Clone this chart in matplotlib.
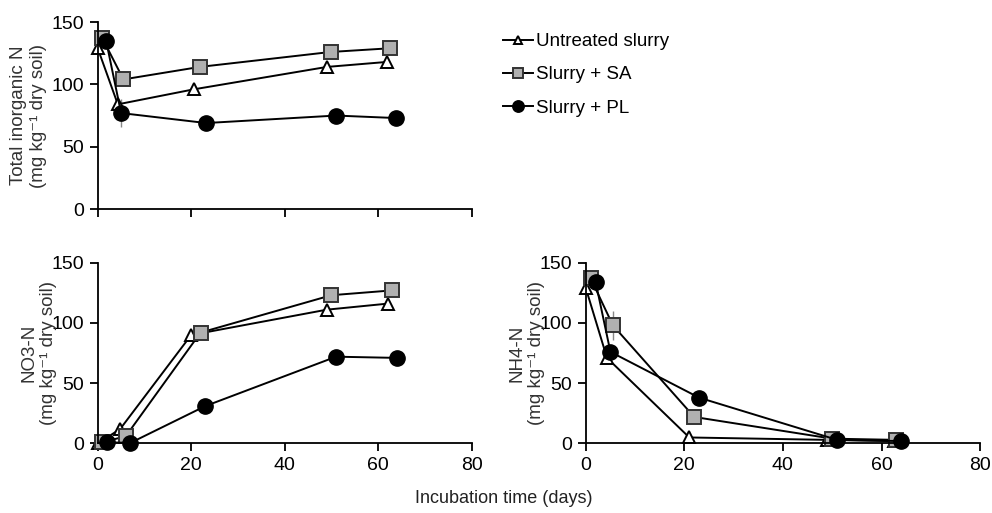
import numpy as np
import matplotlib
matplotlib.use('Agg')
import matplotlib.pyplot as plt

plt.rcParams['font.family'] = ['Liberation Sans', 'DejaVu Sans']

# sampling days (slightly offset per treatment, as in the original figure)
days_untreated = [0, 4.3, 20.5, 49, 61.8]
days_sa = [1, 5.5, 21.8, 49.8, 62.6]
days_pl = [1.8, 5, 23.2, 51, 63.8]

# total inorganic N
tin_untreated = [129, 84, 96, 114, 118]
tin_sa = [137, 104, 114, 126, 129]
tin_pl = [135, 77, 69, 75, 73]
tin_pl_err = [0, 11, 0, 0, 0]

# NO3-N
no3_days_untreated = [0, 4.8, 20, 49, 62]
no3_days_sa = [1, 6, 22, 50, 63]
no3_days_pl = [2, 7, 23, 51, 64]
no3_untreated = [0, 12, 90, 111, 116]
no3_sa = [1, 6, 92, 123, 127]
no3_pl = [1, 0.5, 31, 72, 71]

# NH4-N
nh4_days_untreated = [0, 4.3, 21, 49, 62.5]
nh4_days_sa = [1, 5.5, 22, 50, 63]
nh4_days_pl = [2, 5, 23, 51, 64]
nh4_untreated = [129, 71, 5, 3, 2]
nh4_sa = [137, 98, 22, 4, 3]
nh4_pl = [134, 76, 38, 3, 2]
nh4_sa_err = [0, 12, 0, 0, 0]

labels = ['Untreated slurry', 'Slurry + SA', 'Slurry + PL']
styles = [dict(marker='^', mfc='white', mec='black', ms=8.5, mew=1.4),
          dict(marker='s', mfc='#b0b0b0', mec='#333333', ms=10, mew=1.4),
          dict(marker='o', mfc='black', mec='black', ms=11, mew=1)]

unit = '(mg kg\u207b\u00b9 dry soil)'

fig = plt.figure(figsize=(9.92, 5.13), dpi=100)
ax_tin = fig.add_axes([0.0985, 0.5925, 0.377, 0.3645])
ax_no3 = fig.add_axes([0.0985, 0.1355, 0.377, 0.3525])
ax_nh4 = fig.add_axes([0.5905, 0.1355, 0.3975, 0.3525])


def draw(ax, series, errs=None):
    handles = []
    for i, (x, y) in enumerate(series):
        if errs is not None and errs[i] is not None:
            ax.errorbar(x, y, yerr=errs[i], fmt='none', ecolor='#888888',
                        elinewidth=1, capsize=0, zorder=1)
        h, = ax.plot(x, y, color='black', lw=1.4, zorder=2, clip_on=False,
                     **styles[i])
        handles.append(h)
    ax.set_xlim(0, 80)
    ax.set_ylim(0, 150)
    ax.set_xticks([0, 20, 40, 60, 80])
    ax.set_yticks([0, 50, 100, 150])
    for s in ['top', 'right']:
        ax.spines[s].set_visible(False)
    for s in ['left', 'bottom']:
        ax.spines[s].set_linewidth(1.3)
    ax.tick_params(direction='out', length=6, width=1.3, labelsize=14,
                   colors='black', pad=4)
    return handles


hs = draw(ax_tin, [(days_untreated, tin_untreated), (days_sa, tin_sa),
                   (days_pl, tin_pl)], errs=[None, None, tin_pl_err])
ax_tin.tick_params(axis='x', labelbottom=False)
ax_tin.set_ylabel('Total inorganic N\n' + unit, fontsize=13.5,
                  color='#333333', labelpad=3, linespacing=1.2)

draw(ax_no3, [(no3_days_untreated, no3_untreated), (no3_days_sa, no3_sa),
              (no3_days_pl, no3_pl)])
ax_no3.set_ylabel('NO3-N\n' + unit, fontsize=13.5,
                  color='#333333', labelpad=-4, linespacing=1.2)

draw(ax_nh4, [(nh4_days_untreated, nh4_untreated), (nh4_days_sa, nh4_sa),
              (nh4_days_pl, nh4_pl)], errs=[None, nh4_sa_err, None])
ax_nh4.set_ylabel('NH4-N\n' + unit, fontsize=13.5,
                  color='#333333', labelpad=-4, linespacing=1.2)

fig.text(0.508, 0.012, 'Incubation time (days)', fontsize=13, ha='center',
         va='bottom', color='#222222')

leg = fig.legend(hs, labels, loc='upper left', bbox_to_anchor=(0.49, 0.968),
                 frameon=False, fontsize=13.5, handlelength=1.6,
                 handletextpad=0.15, labelspacing=0.85, markerscale=0.75)

fig.savefig('out.png', dpi=100)
